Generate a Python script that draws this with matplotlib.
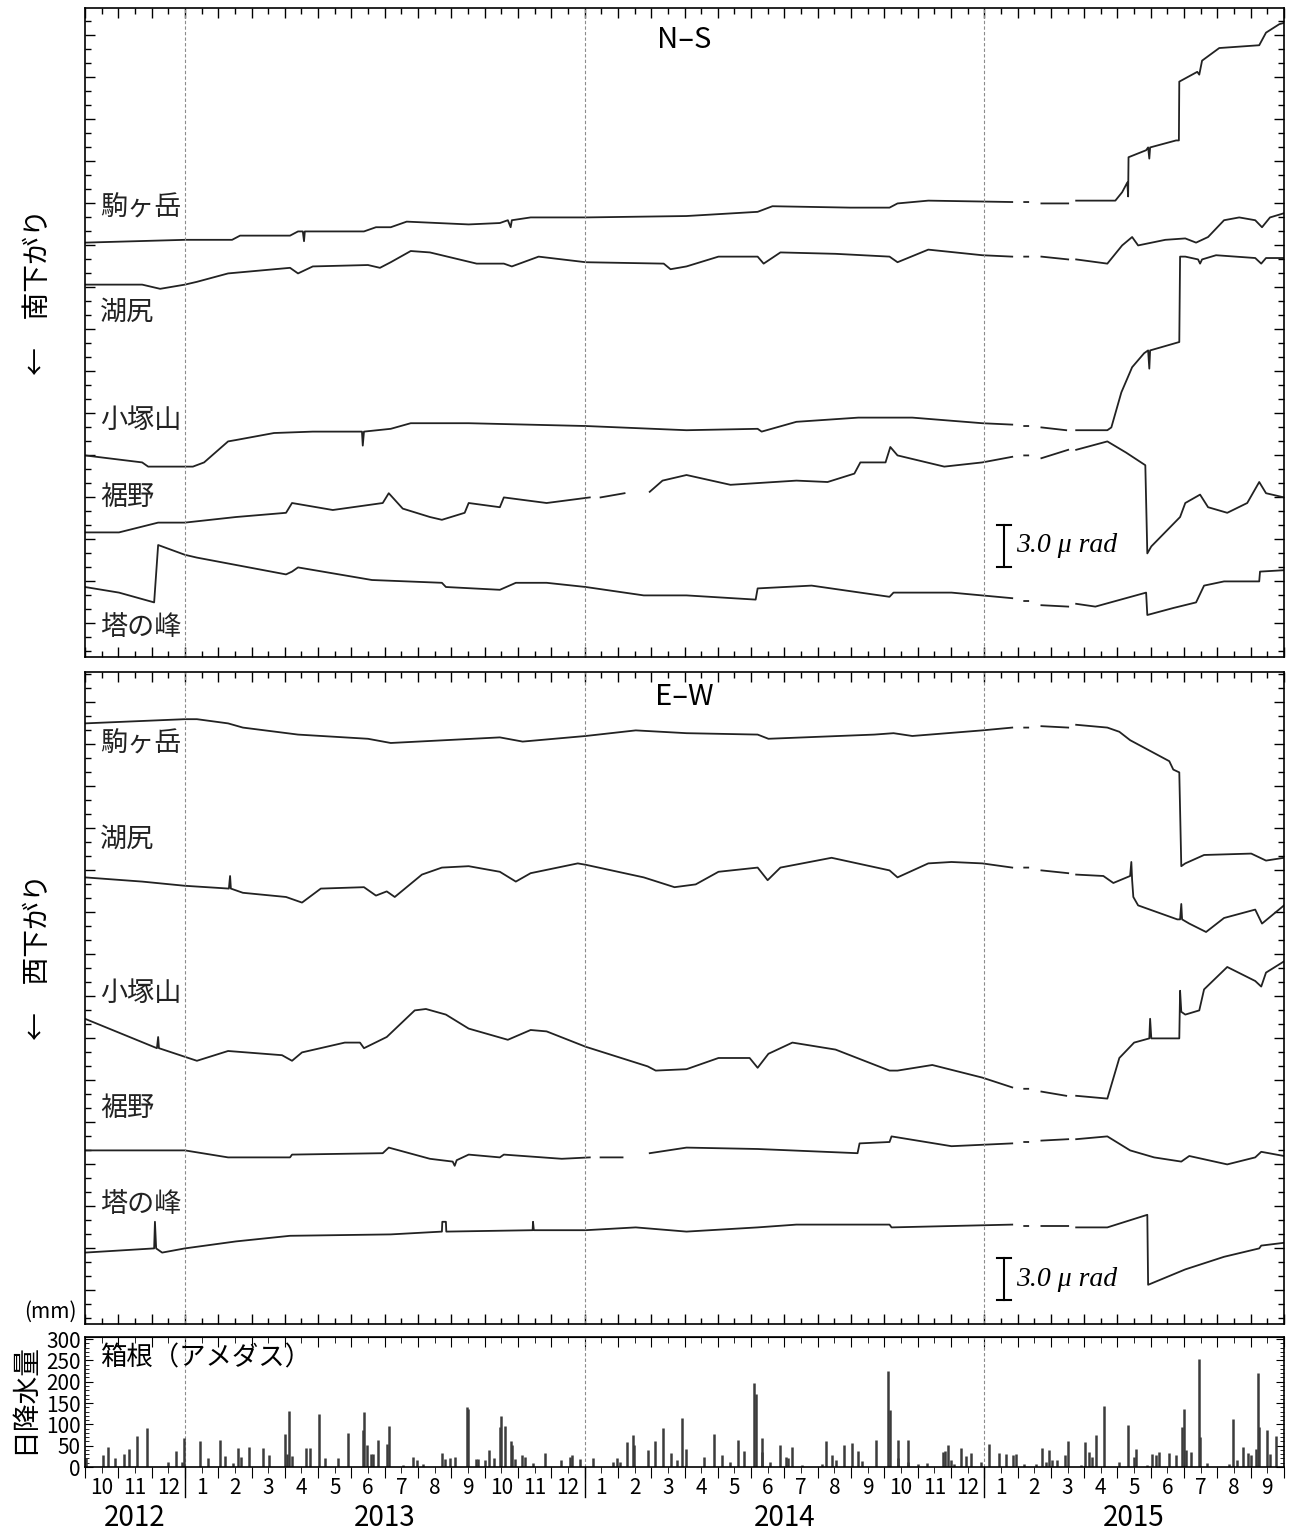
import numpy as np
import matplotlib
matplotlib.use("Agg")
import matplotlib.pyplot as plt
from matplotlib.ticker import NullFormatter
from matplotlib.transforms import blended_transform_factory

nan = np.nan

# tilt in micro-radians, time in decimal years
ns_koma_t = [2012.75, 2013.0, 2013.118, 2013.138, 2013.263, 2013.283, 2013.295, 2013.298, 2013.3, 2013.448,
             2013.478, 2013.515, 2013.555, 2013.71, 2013.788, 2013.808, 2013.815, 2013.818, 2013.865, 2014.003,
             2014.255, 2014.433, 2014.47, 2014.665, 2014.763, 2014.783, 2014.86, 2015.07, 2015.085, 2015.10,
             2015.11, 2015.125, 2015.143, 2015.21, 2015.22, 2015.23, 2015.328, 2015.345, 2015.358, 2015.36,
             2015.361, 2015.405, 2015.41, 2015.413, 2015.415, 2015.48, 2015.487, 2015.488, 2015.533, 2015.538,
             2015.545, 2015.588, 2015.688, 2015.705, 2015.738, 2015.75]
ns_koma_v = [29.6, 29.8, 29.8, 30.1, 30.1, 30.4, 30.4, 29.7, 30.4, 30.4,
             30.7, 30.7, 31.1, 30.9, 31.0, 31.2, 30.7, 31.2, 31.4, 31.4,
             31.5, 31.8, 32.2, 32.1, 32.1, 32.4, 32.6, 32.5, nan, 32.5,
             32.5, nan, 32.4, 32.4, nan, 32.6, 32.6, 33.2, 33.9, 32.9,
             35.7, 36.2, 36.4, 35.6, 36.4, 36.9, 36.9, 41.1, 41.8, 41.6,
             42.6, 43.5, 43.7, 44.6, 45.2, 45.3]

ns_kojiri_t = [2012.75, 2012.893, 2012.938, 2013.0, 2013.03, 2013.108, 2013.263, 2013.283, 2013.32, 2013.458,
               2013.488, 2013.515, 2013.565, 2013.613, 2013.73, 2013.798, 2013.818, 2013.885, 2014.003, 2014.198,
               2014.215, 2014.255, 2014.335, 2014.433, 2014.448, 2014.49, 2014.628, 2014.763, 2014.783, 2014.86,
               2014.995, 2015.07, 2015.085, 2015.10, 2015.11, 2015.125, 2015.143, 2015.21, 2015.22, 2015.23,
               2015.308, 2015.345, 2015.37, 2015.385, 2015.453, 2015.503, 2015.53, 2015.56, 2015.60, 2015.638,
               2015.678, 2015.695, 2015.715, 2015.75]
ns_kojiri_v = [26.6, 26.6, 26.3, 26.6, 26.8, 27.4, 27.8, 27.4, 27.9, 28.0,
               27.8, 28.2, 29.0, 28.9, 28.1, 28.1, 27.9, 28.6, 28.2, 28.1,
               27.7, 27.9, 28.6, 28.6, 28.1, 28.9, 28.8, 28.6, 28.2, 29.1,
               28.7, 28.6, nan, 28.6, 28.6, nan, 28.6, 28.4, nan, 28.4,
               28.1, 29.4, 30.0, 29.4, 29.8, 29.9, 29.6, 30.0, 31.2, 31.4,
               31.2, 30.7, 31.4, 31.7]

ns_kozuka_t = [2012.75, 2012.893, 2012.908, 2013.02, 2013.048, 2013.108, 2013.128, 2013.223, 2013.32, 2013.443,
               2013.445, 2013.448, 2013.515, 2013.565, 2013.71, 2014.003, 2014.255, 2014.433, 2014.443, 2014.53,
               2014.685, 2014.82, 2014.995, 2015.07, 2015.085, 2015.10, 2015.11, 2015.125, 2015.143, 2015.205,
               2015.22, 2015.23, 2015.308, 2015.318, 2015.343, 2015.37, 2015.40, 2015.41, 2015.413, 2015.415,
               2015.488, 2015.49, 2015.503, 2015.535, 2015.54, 2015.545, 2015.58, 2015.678, 2015.693, 2015.705,
               2015.75]
ns_kozuka_v = [14.4, 13.9, 13.6, 13.6, 13.9, 15.4, 15.5, 16.0, 16.1, 16.1,
               15.1, 16.1, 16.3, 16.7, 16.7, 16.5, 16.2, 16.3, 16.1, 16.8,
               17.1, 17.1, 16.7, 16.6, nan, 16.5, 16.5, nan, 16.4, 16.2,
               nan, 16.2, 16.2, 16.4, 18.9, 20.7, 21.7, 21.9, 20.6, 21.9,
               22.5, 28.6, 28.6, 28.4, 28.1, 28.4, 28.7, 28.5, 28.1, 28.5,
               28.5]

ns_susono_t = [2012.75, 2012.835, 2012.933, 2013.0, 2013.128, 2013.253, 2013.268, 2013.37, 2013.495, 2013.51,
               2013.545, 2013.613, 2013.643, 2013.70, 2013.71, 2013.788, 2013.798, 2013.905, 2014.013, 2014.025,
               2014.04, 2014.10, 2014.13, 2014.163, 2014.195, 2014.255, 2014.365, 2014.53, 2014.608, 2014.675,
               2014.69, 2014.753, 2014.765, 2014.783, 2014.90, 2014.995, 2015.07, 2015.085, 2015.10, 2015.11,
               2015.125, 2015.143, 2015.21, 2015.22, 2015.23, 2015.308, 2015.355, 2015.403, 2015.408, 2015.418,
               2015.49, 2015.503, 2015.54, 2015.56, 2015.608, 2015.658, 2015.688, 2015.705, 2015.75]
ns_susono_v = [8.9, 8.9, 9.6, 9.6, 10.0, 10.3, 11.0, 10.5, 11.0, 11.7,
               10.6, 10.0, 9.8, 10.3, 11.0, 10.7, 11.4, 11.0, 11.4, nan,
               11.4, 11.7, nan, 11.8, 12.6, 13.0, 12.3, 12.6, 12.5, 13.1,
               13.9, 13.9, 15.0, 14.4, 13.6, 13.9, 14.3, nan, 14.4, 14.4,
               nan, 14.2, 14.8, nan, 14.8, 15.4, 14.6, 13.7, 7.4, 7.9,
               10.0, 11.0, 11.6, 10.7, 10.3, 11.0, 12.5, 11.7, 11.4]

ns_tono_t = [2012.75, 2012.835, 2012.923, 2012.933, 2013.0, 2013.03, 2013.253, 2013.268, 2013.283, 2013.468,
             2013.643, 2013.653, 2013.788, 2013.828, 2013.905, 2014.003, 2014.148, 2014.255, 2014.428, 2014.433,
             2014.568, 2014.763, 2014.773, 2014.918, 2015.07, 2015.085, 2015.10, 2015.11, 2015.125, 2015.143,
             2015.21, 2015.22, 2015.23, 2015.278, 2015.405, 2015.408, 2015.473, 2015.53, 2015.55, 2015.60,
             2015.688, 2015.69, 2015.75]
ns_tono_v = [5.0, 4.6, 3.9, 8.0, 7.3, 7.1, 5.9, 6.1, 6.4, 5.5,
             5.3, 5.0, 4.8, 5.3, 5.3, 5.0, 4.4, 4.4, 4.1, 4.9,
             5.1, 4.3, 4.6, 4.6, 4.2, nan, 4.0, 4.0, nan, 3.7,
             3.6, nan, 3.8, 3.6, 4.6, 3.0, 3.5, 3.9, 5.1, 5.4,
             5.4, 6.1, 6.2]

ew_koma_t = [2012.75, 2013.0, 2013.03, 2013.108, 2013.145, 2013.283, 2013.458, 2013.515, 2013.788, 2013.845,
             2014.003, 2014.128, 2014.255, 2014.433, 2014.46, 2014.725, 2014.773, 2014.82, 2014.995, 2015.07,
             2015.085, 2015.10, 2015.11, 2015.125, 2015.143, 2015.21, 2015.22, 2015.23, 2015.308, 2015.338,
             2015.365, 2015.463, 2015.473, 2015.488, 2015.493, 2015.503, 2015.55, 2015.668, 2015.705, 2015.75]
ew_koma_v = [42.9, 43.2, 43.2, 42.9, 42.6, 42.1, 41.8, 41.5, 41.9, 41.6,
             42.0, 42.4, 42.2, 42.1, 41.8, 42.1, 42.2, 42.0, 42.4, 42.6,
             nan, 42.6, 42.6, nan, 42.7, 42.6, nan, 42.8, 42.6, 42.3,
             41.7, 40.2, 39.6, 39.4, 32.7, 32.9, 33.5, 33.6, 33.1, 33.3]

ew_kojiri_t = [2012.75, 2012.893, 2013.0, 2013.11, 2013.113, 2013.115, 2013.145, 2013.253, 2013.293, 2013.34,
               2013.448, 2013.478, 2013.505, 2013.525, 2013.593, 2013.643, 2013.71, 2013.788, 2013.828, 2013.865,
               2013.983, 2014.003, 2014.148, 2014.225, 2014.278, 2014.335, 2014.433, 2014.458, 2014.49, 2014.618,
               2014.763, 2014.783, 2014.86, 2014.918, 2014.995, 2015.07, 2015.085, 2015.10, 2015.11, 2015.125,
               2015.143, 2015.21, 2015.22, 2015.23, 2015.298, 2015.323, 2015.365, 2015.368, 2015.37, 2015.373,
               2015.385, 2015.483, 2015.49, 2015.493, 2015.495, 2015.513, 2015.555, 2015.60, 2015.678, 2015.695,
               2015.75]
ew_kojiri_v = [31.9, 31.6, 31.3, 31.1, 32.0, 31.1, 30.8, 30.5, 30.1, 31.1,
               31.2, 30.6, 30.9, 30.5, 32.1, 32.6, 32.7, 32.3, 31.6, 32.2,
               32.9, 32.8, 31.9, 31.2, 31.4, 32.3, 32.6, 31.7, 32.6, 33.3,
               32.4, 31.9, 32.9, 33.0, 32.9, 32.6, nan, 32.6, 32.6, nan,
               32.4, 32.2, nan, 32.1, 32.0, 31.5, 32.0, 33.0, 31.7, 30.5,
               29.9, 28.9, 28.9, 30.0, 28.9, 28.6, 28.0, 29.0, 29.6, 28.6,
               29.9]

ew_kozuka_t = [2012.75, 2012.93, 2012.933, 2012.935, 2013.03, 2013.108, 2013.243, 2013.268, 2013.293, 2013.40,
               2013.438, 2013.448, 2013.505, 2013.575, 2013.603, 2013.653, 2013.71, 2013.808, 2013.865, 2013.905,
               2014.003, 2014.158, 2014.178, 2014.255, 2014.335, 2014.413, 2014.433, 2014.46, 2014.52, 2014.628,
               2014.763, 2014.783, 2014.87, 2014.995, 2015.07, 2015.085, 2015.10, 2015.11, 2015.125, 2015.143,
               2015.205, 2015.22, 2015.23, 2015.308, 2015.338, 2015.375, 2015.413, 2015.415, 2015.418, 2015.488,
               2015.49, 2015.493, 2015.503, 2015.538, 2015.55, 2015.608, 2015.678, 2015.693, 2015.705, 2015.75]
ew_kozuka_v = [21.8, 19.7, 20.5, 19.7, 18.8, 19.5, 19.2, 18.8, 19.4, 20.1,
               20.1, 19.7, 20.5, 22.4, 22.5, 22.1, 21.1, 20.3, 21.0, 20.9,
               19.8, 18.4, 18.1, 18.2, 19.0, 19.0, 18.3, 19.3, 20.1, 19.6,
               18.1, 18.1, 18.5, 17.6, 16.9, nan, 16.8, 16.8, nan, 16.6,
               16.3, nan, 16.3, 16.1, 19.0, 20.1, 20.4, 21.8, 20.4, 20.4,
               23.8, 22.3, 22.1, 22.4, 23.9, 25.5, 24.5, 24.1, 25.1, 25.9]

ew_susono_t = [2012.75, 2013.0, 2013.108, 2013.263, 2013.268, 2013.495, 2013.51, 2013.613, 2013.67, 2013.675,
               2013.68, 2013.71, 2013.788, 2013.798, 2013.943, 2014.013, 2014.025, 2014.04, 2014.095, 2014.13,
               2014.163, 2014.255, 2014.433, 2014.683, 2014.688, 2014.763, 2014.768, 2014.918, 2015.07, 2015.085,
               2015.10, 2015.11, 2015.125, 2015.143, 2015.21, 2015.22, 2015.23, 2015.308, 2015.365, 2015.425,
               2015.493, 2015.513, 2015.608, 2015.678, 2015.693, 2015.75]
ew_susono_v = [12.4, 12.4, 11.9, 11.9, 12.1, 12.2, 12.6, 11.8, 11.6, 11.3,
               11.7, 12.1, 11.9, 12.1, 11.8, 11.9, nan, 11.9, 11.9, nan,
               12.2, 12.6, 12.5, 12.2, 12.9, 13.0, 13.4, 12.7, 12.9, nan,
               13.0, 13.0, nan, 13.1, 13.2, nan, 13.2, 13.4, 12.4, 11.9,
               11.6, 12.0, 11.4, 11.9, 12.3, 12.0]

ew_tono_t = [2012.75, 2012.923, 2012.925, 2012.928, 2012.943, 2013.0, 2013.128, 2013.263, 2013.515, 2013.643,
             2013.644, 2013.653, 2013.654, 2013.87, 2013.871, 2013.873, 2014.003, 2014.128, 2014.255, 2014.433,
             2014.53, 2014.763, 2014.768, 2015.07, 2015.085, 2015.10, 2015.11, 2015.125, 2015.143, 2015.21,
             2015.22, 2015.23, 2015.308, 2015.408, 2015.41, 2015.503, 2015.60, 2015.688, 2015.693, 2015.75]
ew_tono_v = [5.1, 5.4, 7.3, 5.4, 5.1, 5.4, 5.9, 6.3, 6.4, 6.6,
             7.3, 7.3, 6.6, 6.7, 7.3, 6.7, 6.7, 6.9, 6.6, 6.9,
             7.1, 7.1, 6.9, 7.1, nan, 7.0, 7.0, nan, 7.0, 7.0,
             nan, 6.9, 6.9, 7.8, 2.8, 3.9, 4.8, 5.4, 5.6, 5.8]

# daily rainfall at Hakone (AMeDAS), mm
rain_t = [2012.753, 2012.795, 2012.808, 2012.825, 2012.848, 2012.860, 2012.880, 2012.905, 2012.958, 2012.978,
          2012.993, 2012.998, 2013.038, 2013.058, 2013.088, 2013.100, 2013.120, 2013.133, 2013.140, 2013.160,
          2013.195, 2013.210, 2013.250, 2013.255, 2013.260, 2013.268, 2013.303, 2013.313, 2013.335, 2013.350,
          2013.383, 2013.408, 2013.445, 2013.448, 2013.455, 2013.465, 2013.470, 2013.483, 2013.505, 2013.510,
          2013.545, 2013.570, 2013.580, 2013.595, 2013.643, 2013.650, 2013.663, 2013.675, 2013.705, 2013.708,
          2013.728, 2013.733, 2013.750, 2013.760, 2013.773, 2013.788, 2013.790, 2013.800, 2013.815, 2013.818,
          2013.825, 2013.843, 2013.850, 2013.870, 2013.900, 2013.940, 2013.963, 2013.968, 2013.988, 2014.020,
          2014.070, 2014.080, 2014.088, 2014.105, 2014.120, 2014.123, 2014.158, 2014.175, 2014.195, 2014.215,
          2014.230, 2014.243, 2014.255, 2014.300, 2014.325, 2014.343, 2014.365, 2014.383, 2014.400, 2014.425,
          2014.430, 2014.443, 2014.445, 2014.463, 2014.490, 2014.505, 2014.508, 2014.520, 2014.545, 2014.595,
          2014.605, 2014.620, 2014.630, 2014.650, 2014.668, 2014.683, 2014.693, 2014.730, 2014.758, 2014.763,
          2014.783, 2014.785, 2014.808, 2014.810, 2014.835, 2014.858, 2014.898, 2014.903, 2014.910, 2014.918,
          2014.925, 2014.943, 2014.955, 2014.968, 2014.993, 2015.013, 2015.038, 2015.055, 2015.073, 2015.080,
          2015.100, 2015.130, 2015.145, 2015.155, 2015.163, 2015.170, 2015.183, 2015.203, 2015.210, 2015.243,
          2015.253, 2015.263, 2015.270, 2015.280, 2015.300, 2015.338, 2015.360, 2015.375, 2015.380, 2015.408,
          2015.420, 2015.430, 2015.438, 2015.463, 2015.480, 2015.495, 2015.500, 2015.505, 2015.518, 2015.538,
          2015.540, 2015.558, 2015.613, 2015.623, 2015.633, 2015.648, 2015.660, 2015.668, 2015.680, 2015.685,
          2015.688, 2015.708, 2015.715, 2015.730]
rain_mm = [20, 27, 48, 20, 31, 43, 72, 91, 12, 37,
           12, 69, 61, 20, 64, 25, 9, 44, 23, 47,
           45, 29, 78, 31, 132, 25, 45, 45, 125, 22,
           21, 79, 86, 128, 51, 31, 31, 64, 55, 97,
           5, 23, 16, 8, 33, 18, 20, 23, 140, 136,
           18, 18, 16, 41, 22, 94, 119, 96, 62, 51,
           18, 27, 23, 10, 34, 16, 23, 29, 18, 20,
           12, 21, 12, 59, 74, 52, 39, 60, 91, 33,
           16, 115, 43, 23, 78, 29, 12, 64, 37, 197,
           172, 68, 35, 12, 51, 23, 21, 47, 5, 8,
           60, 29, 16, 51, 56, 37, 13, 64, 226, 134,
           64, 20, 64, 12, 8, 9, 35, 37, 51, 17,
           8, 45, 25, 33, 12, 55, 33, 31, 27, 31,
           8, 6, 44, 12, 39, 16, 16, 27, 61, 4,
           58, 35, 23, 74, 142, 12, 99, 23, 43, 4,
           31, 27, 35, 33, 27, 95, 136, 39, 35, 253,
           70, 9, 8, 112, 16, 47, 33, 27, 43, 220,
           93, 87, 31, 72]

stations = ["駒ヶ岳", "湖尻", "小塚山", "裾野", "塔の峰"]
ns_label_v = [32.1, 24.6, 16.9, 11.4, 2.1]
ew_label_v = [41.4, 34.6, 23.6, 15.4, 8.5]
month_labels = ["10", "11", "12"] + [str(m) for m in range(1, 13)] * 2 + [str(m) for m in range(1, 10)]
years = ["2012", "2013", "2014", "2015"]
year_label_x = [2012.875, 2013.5, 2014.5, 2015.375]

plt.rcParams["font.family"] = ["Noto Sans CJK JP", "DejaVu Sans"]

W, H = 1290, 1535
fig = plt.figure(figsize=(W / 100, H / 100), dpi=100)


def box(left, top, right, bottom):
    return [left / W, 1 - bottom / H, (right - left) / W, (bottom - top) / H]


ax_ns = fig.add_axes(box(85, 8, 1284, 657))
ax_ew = fig.add_axes(box(85, 672, 1284, 1324))
ax_rain = fig.add_axes(box(85, 1337, 1284, 1467))

x0, x1 = 2012.75, 2015.75
month_starts = x0 + np.arange(37) / 12
mid_months = month_starts[:-1] + 1 / 24
line_kw = dict(color="#222222", lw=1.3)

ns_series = [(ns_koma_t, ns_koma_v), (ns_kojiri_t, ns_kojiri_v), (ns_kozuka_t, ns_kozuka_v),
             (ns_susono_t, ns_susono_v), (ns_tono_t, ns_tono_v)]
ew_series = [(ew_koma_t, ew_koma_v), (ew_kojiri_t, ew_kojiri_v), (ew_kozuka_t, ew_kozuka_v),
             (ew_susono_t, ew_susono_v), (ew_tono_t, ew_tono_v)]

for ax, series, label_v, top, title, title_y, bar_v in [
    (ax_ns, ns_series, ns_label_v, 46.36, "N–S", 0.951, 6.43),
    (ax_ew, ew_series, ew_label_v, 46.57, "E–W", 0.962, 1.71),
]:
    for t, v in series:
        ax.plot(t, v, **line_kw)
    for name, yv in zip(stations, label_v):
        ax.text(2012.7875, yv, name, fontsize=19.5, va="center", ha="left", color="#222")
    ax.text(0.5, title_y, title, transform=ax.transAxes, ha="center", va="center", fontsize=21)
    ax.set_ylim(0, top)
    ax.set_yticks(np.arange(2.43, top, 3))
    ax.set_yticks(np.arange(0.43, top, 1), minor=True)
    ax.yaxis.set_major_formatter(NullFormatter())
    # 3.0 micro-radian scale bar
    bx = 2015.05
    ax.plot([bx, bx], [bar_v, bar_v + 3.0], color="black", lw=1.5)
    ax.plot([bx - 0.018, bx + 0.018], [bar_v, bar_v], color="black", lw=1.5)
    ax.plot([bx - 0.018, bx + 0.018], [bar_v + 3.0, bar_v + 3.0], color="black", lw=1.5)
    ax.text(bx + 0.03, bar_v + 1.5, "3.0 μ rad", family="Liberation Serif", style="italic",
            fontsize=20, va="center", ha="left")

for ax in (ax_ns, ax_ew, ax_rain):
    ax.set_xlim(x0, x1)
    for yr in (2013, 2014, 2015):
        ax.axvline(yr, color="#8c8c8c", lw=0.8, dashes=(3, 2))
    for s in ax.spines.values():
        s.set_linewidth(1.2)

for ax in (ax_ns, ax_ew):
    ax.set_xticks(month_starts)
    ax.set_xticks(mid_months, minor=True)
    ax.xaxis.set_major_formatter(NullFormatter())
    ax.tick_params(which="both", direction="in", top=True, right=True,
                   labelbottom=False, labelleft=False, width=1.0)
    ax.tick_params(which="major", length=7)
    ax.tick_params(which="minor", length=4)

# rainfall panel
ax_rain.vlines(rain_t, 0, rain_mm, color="#3c3c3c", lw=1.8)
ax_rain.set_ylim(0, 305)
ax_rain.set_yticks(np.arange(0, 301, 50))
ax_rain.set_yticks(np.arange(0, 301, 10), minor=True)
ax_rain.tick_params(axis="y", which="both", direction="in", right=True, labelsize=15, pad=3)
ax_rain.tick_params(axis="y", which="major", length=6)
ax_rain.tick_params(axis="y", which="minor", length=3)
ax_rain.set_xticks(month_starts, labels=[""] * len(month_starts))
ax_rain.set_xticks(mid_months, labels=month_labels, minor=True)
ax_rain.tick_params(axis="x", which="both", direction="out", labelsize=15, pad=3)
ax_rain.tick_params(axis="x", which="major", length=8)
ax_rain.tick_params(axis="x", which="minor", length=4)
sec = ax_rain.secondary_xaxis("top")
sec.set_xticks(month_starts)
sec.set_xticks(mid_months, minor=True)
sec.xaxis.set_major_formatter(NullFormatter())
sec.xaxis.set_minor_formatter(NullFormatter())
sec.tick_params(which="both", direction="in")
sec.tick_params(which="major", length=7)
sec.tick_params(which="minor", length=4)

trans = blended_transform_factory(ax_rain.transData, ax_rain.transAxes)
for yr in (2013, 2014, 2015):
    ax_rain.plot([yr, yr], [0, -0.23], transform=trans, color="black", lw=1.0, clip_on=False)
for label, xv in zip(years, year_label_x):
    ax_rain.text(xv, -0.39, label, transform=trans, ha="center", va="center", fontsize=20)
ax_rain.text(2012.7875, 255, "箱根（アメダス）", fontsize=19, va="center", ha="left")

fig.text(50 / W, 1 - 1312 / H, "(mm)", ha="center", va="center", fontsize=15)
fig.text(24 / W, 1 - 1399 / H, "日降水量", rotation=90, ha="center", va="center", fontsize=20)
fig.text(38 / W, 1 - 292 / H, "←　南下がり", rotation=90, ha="center", va="center", fontsize=20)
fig.text(38 / W, 1 - 957 / H, "←　西下がり", rotation=90, ha="center", va="center", fontsize=20)

fig.savefig("out.png", dpi=100)
